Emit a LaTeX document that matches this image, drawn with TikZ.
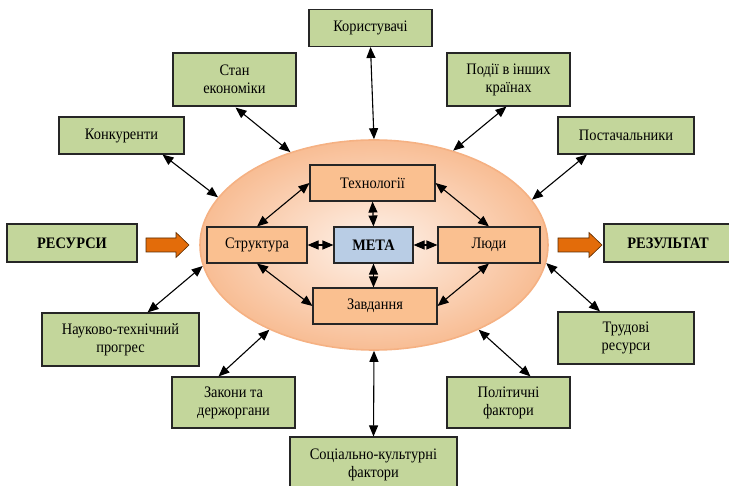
\documentclass[tikz,border=0pt]{standalone}
\usepackage{fontspec}
\setmainfont{Liberation Serif}[Script=Cyrillic]
\newfontfamily\labelfont{Liberation Serif}[Script=Cyrillic, FakeStretch=0.9]
\usetikzlibrary{arrows.meta,shapes.geometric,calc}

\definecolor{boxgreen}{HTML}{C3D69B}
\definecolor{boxpeach}{HTML}{FAC090}
\definecolor{boxblue}{HTML}{B9CDE5}
\definecolor{ovalin}{HTML}{FEF2EA}
\definecolor{ovalout}{HTML}{F8BD94}
\definecolor{ovalline}{HTML}{F5B183}
\definecolor{blockfill}{HTML}{E36C0A}
\definecolor{blockline}{HTML}{5A2A00}

\tikzset{
  basebox/.style={draw=black!85, line width=1.1pt, inner sep=0pt, align=center,
    font=\labelfont\fontsize{16}{18}\selectfont},
  outerbox/.style={basebox, fill=boxgreen, minimum height=37pt},
  innerbox/.style={basebox, fill=boxpeach, minimum height=36pt},
  goalbox/.style={basebox, fill=boxblue, minimum height=36pt, font=\labelfont\fontsize{16}{18}\selectfont\bfseries},
  boldbox/.style={outerbox, font=\labelfont\fontsize{16}{18}\selectfont\bfseries},
  link/.style={line width=1.1pt, {Triangle[length=11pt,width=9pt]}-{Triangle[length=11pt,width=9pt]}},
  blockarrow/.style={fill=blockfill, draw=blockline, line width=0.6pt, line join=miter}
}

\begin{document}
\begin{tikzpicture}[x=1pt,y=-1pt]
\useasboundingbox (0,0) rectangle (729,486);

% central oval
\node[ellipse, minimum width=348pt, minimum height=210pt, inner sep=0pt,
      draw=ovalline, line width=1.6pt, inner color=ovalin, outer color=ovalout]
      (oval) at (374,245) {};

% inner elements
\node[innerbox, minimum width=125pt] (tech)   at (372.5,183) {Технології};
\node[innerbox, minimum width=100pt] (struct) at (257,245)   {Структура};
\node[goalbox,  minimum width=79pt]  (goal)   at (373.5,245) {МЕТА};
\node[innerbox, minimum width=102pt] (people) at (489,245)   {Люди};
\node[innerbox, minimum width=124pt] (tasks)  at (375,306)   {Завдання};

\draw[link] (tech.west)   -- (struct.north);
\draw[link] (tech.east)   -- (people.north);
\draw[link] (struct.south) -- (tasks.west);
\draw[link] (people.south) -- (tasks.east);
\draw[link] (tech.south)  -- (goal.north);
\draw[link] (goal.south)  -- (goal.south |- tasks.north);
\draw[link] (struct.east) -- (goal.west);
\draw[link] (goal.east)   -- (people.west);

% environment factors
\node[outerbox, minimum width=123pt] (users)     at (370.5,28)  {Користувачі};
\node[outerbox, minimum width=123pt, minimum height=53pt] (economy) at (234.5,79.5) {Стан\\економіки};
\node[outerbox, minimum width=123pt, minimum height=53pt] (abroad)  at (508.5,79.5) {Події в інших\\країнах};
\node[outerbox, minimum width=125pt] (rivals)    at (121.5,135.5) {Конкуренти};
\node[outerbox, minimum width=136pt] (suppliers) at (626,135.5)   {Постачальники};
\node[outerbox, minimum width=157pt, minimum height=53pt] (science) at (120.5,339.5) {Науково-технічний\\прогрес};
\node[outerbox, minimum width=123pt, minimum height=51pt] (laws)    at (233.5,402.5) {Закони та\\держоргани};
\node[outerbox, minimum width=167pt, minimum height=55pt] (culture) at (373.5,464.5) {Соціально-культурні\\фактори};
\node[outerbox, minimum width=123pt, minimum height=51pt] (politics) at (508.5,402.5) {Політичні\\фактори};
\node[outerbox, minimum width=136pt, minimum height=52pt] (labour)  at (626,338)    {Трудові\\ресурси};

% inputs and outputs
\node[boldbox, minimum width=130pt, minimum height=38pt] (inputs)  at (72,243)  {РЕСУРСИ};
\node[boldbox, minimum width=128pt, minimum height=38pt] (outputs) at (668,243) {РЕЗУЛЬТАТ};

\draw[blockarrow] (146,238) -- (176,238) -- (176,232.5) -- (189,245) -- (176,257.5)
                  -- (176,252) -- (146,252) -- cycle;
\draw[blockarrow] (558,238) -- (589,238) -- (589,232.5) -- (602,245) -- (589,257.5)
                  -- (589,252) -- (558,252) -- cycle;

% links between the environment and the organisation
\draw[link] (users.south) -- (oval.90);
\draw[link] ($(economy.south)+(1,1)$) -- (oval.132.8);
\draw[link] ($(abroad.south)+(-2,0)$) -- (oval.50.5);
\draw[link] ($(rivals.south)+(41,0)$) -- (oval.163);
\draw[link] ($(suppliers.south)+(-39,0)$) -- (oval.16.5);
\draw[link] ($(science.north)+(27,0)$) -- (oval.187.5);
\draw[link] ($(laws.north)+(-15,0)$) -- (oval.219);
\draw[link] (culture.north) -- (oval.270);
\draw[link] ($(politics.north)+(22,0)$) -- (oval.321);
\draw[link] ($(labour.north)+(-26,0)$) -- (oval.354);

\end{tikzpicture}
\end{document}
